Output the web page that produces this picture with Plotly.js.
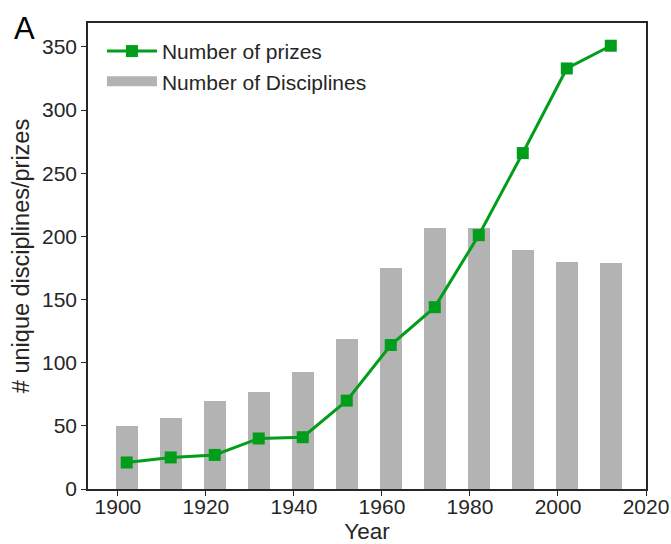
<!DOCTYPE html>
<html>
<head>
<meta charset="utf-8">
<script src="https://cdn.plot.ly/plotly-3.0.1.min.js"></script>
<style>html,body{margin:0;padding:0;background:#fff;}#chart{width:671px;height:544px;}</style>
</head>
<body>
<div id="chart"></div>
<script>
const years = [1902, 1912, 1922, 1932, 1942, 1952, 1962, 1972, 1982, 1992, 2002, 2012];
const disciplines = [50, 56, 70, 77, 93, 119, 175, 207, 207, 189, 180, 179];
const prizes = [21, 25, 27, 40, 41, 70, 114, 144, 201, 266, 333, 351];
const xTicks = [1900, 1920, 1940, 1960, 1980, 2000, 2020];
const yTicks = [0, 50, 100, 150, 200, 250, 300, 350];

const FONT = 'Liberation Sans, Arial, sans-serif';
const GREEN = '#009e1a';
const GRAY = '#b3b3b3';
const traces = [
  {
    type: 'bar', x: years, y: disciplines, width: 5,
    name: 'Number of Disciplines', showlegend: false,
    marker: {color: GRAY, line: {width: 0}}
  },
  {
    type: 'scatter', mode: 'lines+markers', x: years, y: prizes,
    name: 'Number of prizes',
    line: {color: GREEN, width: 3},
    marker: {symbol: 'square', size: 12, color: GREEN},
    legendrank: 1
  },
  {
    // legend-only entry: wide grey patch like the reference legend
    type: 'scatter', mode: 'lines', x: [null], y: [null],
    name: 'Number of Disciplines',
    line: {color: GRAY, width: 15},
    hoverinfo: 'skip', legendrank: 2
  }
];
const axisCommon = {
  showline: true, linecolor: '#262626', linewidth: 1.5, mirror: true,
  ticks: 'outside', ticklen: 5, tickwidth: 1.3, tickcolor: '#262626',
  showgrid: false, zeroline: false,
  tickfont: {family: FONT, size: 21, color: '#262626'}
};
const layout = {
  width: 671, height: 544,
  margin: {l: 88, r: 25, t: 23, b: 55},
  paper_bgcolor: '#fff', plot_bgcolor: '#fff',
  font: {family: FONT, color: '#262626'},
  showlegend: true,
  legend: {x: 0.025, y: 0.983, xanchor: 'left', yanchor: 'top', bgcolor: 'rgba(0,0,0,0)',
           itemwidth: 50,
           font: {family: FONT, size: 21, color: '#262626'}, tracegroupgap: 0},
  bargap: 0,
  xaxis: Object.assign({}, axisCommon, {
    range: [1893.2, 2020], tickmode: 'array', tickvals: xTicks, ticktext: xTicks.map(String),
    automargin: false, ticklabelstandoff: -7,
    title: {text: 'Year', font: {family: FONT, size: 22.5, color: '#262626'}, standoff: 11}
  }),
  yaxis: Object.assign({}, axisCommon, {
    range: [0, 369], tickmode: 'array', tickvals: yTicks, ticktext: yTicks.map(String),
    automargin: false,
    title: {text: '# unique disciplines/prizes', font: {family: FONT, size: 23.5, color: '#262626'}, standoff: 6}
  }),
  annotations: [{
    text: 'A', xref: 'paper', yref: 'paper', x: -0.135, y: 1.0, xanchor: 'left', yanchor: 'bottom',
    showarrow: false, font: {family: FONT, size: 31, color: '#000'}, yshift: -25, xshift: -1
  }]
};
Plotly.newPlot('chart', traces, layout, {displayModeBar: false});
</script>
</body>
</html>
